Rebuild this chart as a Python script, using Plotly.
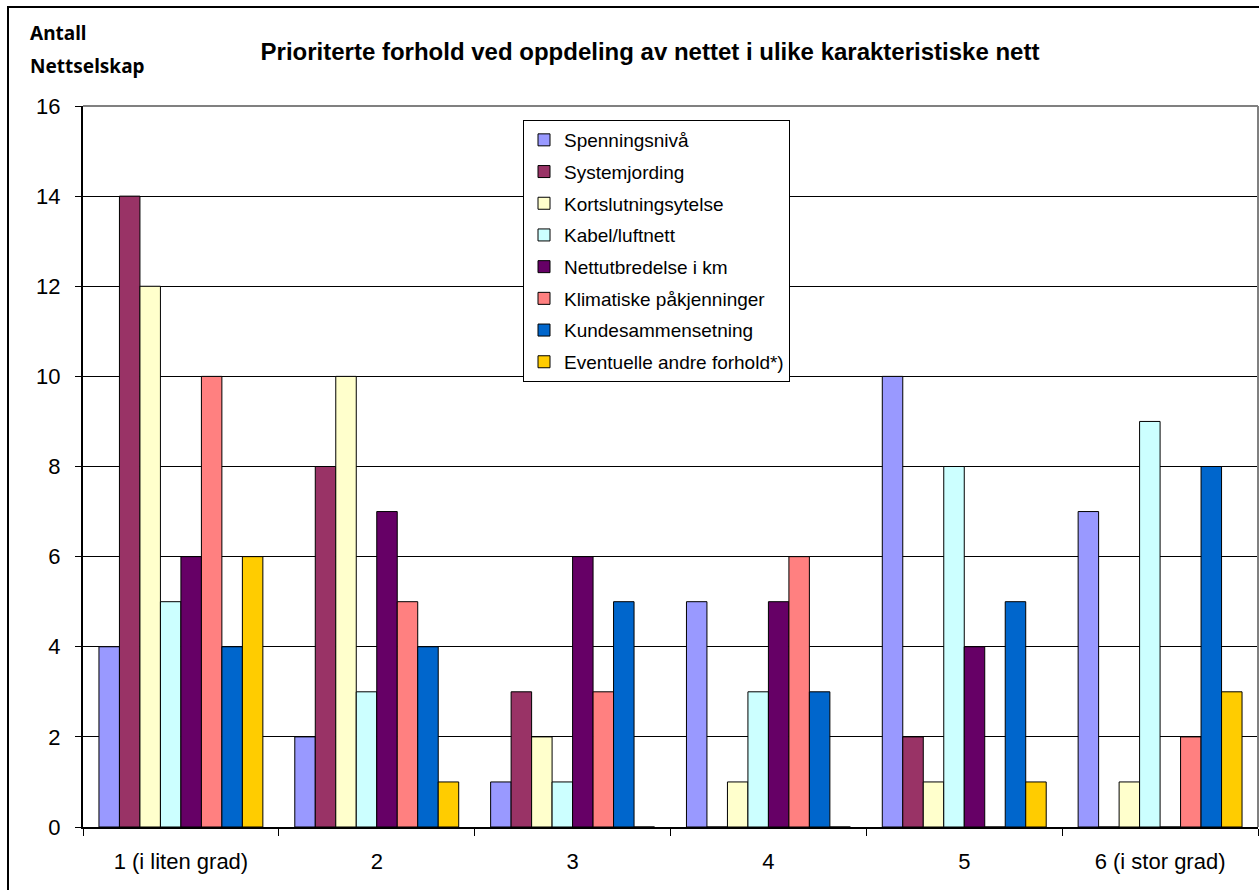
import plotly.graph_objects as go

# Survey answers: number of grid companies per priority level
categories = ["1 (i liten grad)", "2", "3", "4", "5", "6 (i stor grad)"]

series_names = [
    "Spenningsnivå",
    "Systemjording",
    "Kortslutningsytelse",
    "Kabel/luftnett",
    "Nettutbredelse i km",
    "Klimatiske påkjenninger",
    "Kundesammensetning",
    "Eventuelle andre forhold*)",
]

spenningsniva = [4, 2, 1, 5, 10, 7]
systemjording = [14, 8, 3, 0, 2, 0]
kortslutningsytelse = [12, 10, 2, 1, 1, 1]
kabel_luftnett = [5, 3, 1, 3, 8, 9]
nettutbredelse = [6, 7, 6, 5, 4, 0]
klimatiske = [10, 5, 3, 6, 0, 2]
kundesammensetning = [4, 4, 5, 3, 5, 8]
andre_forhold = [6, 1, 0, 0, 1, 3]

series_values = [
    spenningsniva, systemjording, kortslutningsytelse, kabel_luftnett,
    nettutbredelse, klimatiske, kundesammensetning, andre_forhold,
]

colors = ["#9999FF", "#993366", "#FFFFCC", "#CCFFFF",
          "#660066", "#FF8080", "#0066CC", "#FFCC00"]

y_ticks = [0, 2, 4, 6, 8, 10, 12, 14, 16]

W, H = 1259, 890
ML, MR, MT, MB = 83, 1, 106, 63
PW, PH = W - ML - MR, H - MT - MB

def px_x(p):
    return (p - ML) / PW

def px_y(p):
    return 1 - (p - MT) / PH

FONT = "Liberation Sans, Arial, sans-serif"

fig = go.Figure()
for i, (name, vals, col) in enumerate(zip(series_names, series_values, colors)):
    fig.add_trace(go.Bar(
        x=categories, y=vals, name=name,
        marker=dict(color=col, line=dict(color="#000000", width=1)),
        legendgroup=f"g{i}",
    ))

fig.update_layout(
    width=W, height=H,
    margin=dict(l=ML, r=MR, t=MT, b=MB, pad=0),
    paper_bgcolor="white", plot_bgcolor="white",
    barmode="group", bargap=0.163, bargroupgap=0,
    font=dict(family=FONT, color="#000000"),
    title=dict(
        text="<b>Prioriterte forhold ved oppdeling av nettet i ulike karakteristiske nett</b>",
        x=650 / W, xref="container", xanchor="center",
        y=1 - 52 / H, yref="container", yanchor="middle",
        font=dict(family=FONT, size=24, color="#000000"),
    ),
    legend=dict(
        x=px_x(523), y=px_y(120), xanchor="left", yanchor="top",
        bgcolor="white", bordercolor="#000000", borderwidth=1,
        font=dict(family=FONT, size=19, color="#000000"),
        tracegroupgap=4, traceorder="grouped",
    ),
    xaxis=dict(
        type="category", showgrid=False,
        showline=True, linecolor="#000000", linewidth=2,
        ticks="outside", tickson="boundaries", ticklen=7,
        tickcolor="#000000", tickwidth=1,
        tickfont=dict(family=FONT, size=22, color="#000000"),
        ticklabelstandoff=14,
    ),
    yaxis=dict(
        range=[0, 16], tickvals=y_ticks, ticktext=[str(v) for v in y_ticks],
        showgrid=True, gridcolor="#000000", gridwidth=1,
        showline=True, linecolor="#000000", linewidth=2,
        ticks="outside", ticklen=6, tickcolor="#000000", tickwidth=1,
        tickfont=dict(family=FONT, size=22, color="#000000"),
        ticklabelstandoff=10, zeroline=False,
    ),
    shapes=[
        # outer chart frame
        dict(type="rect", xref="paper", yref="paper",
             x0=px_x(8), x1=px_x(1270), y0=px_y(900), y1=px_y(7),
             line=dict(color="#000000", width=2), layer="above"),
        # plot-area border (top and right)
        dict(type="line", xref="paper", yref="paper",
             x0=0, x1=1, y0=1, y1=1,
             line=dict(color="#808080", width=2), layer="above"),
        dict(type="line", xref="paper", yref="paper",
             x0=1, x1=1, y0=0, y1=1,
             line=dict(color="#808080", width=2), layer="above"),
    ],
    annotations=[
        dict(text="<b>Antall</b>", xref="paper", yref="paper",
             x=px_x(28), y=px_y(48), xanchor="left", yanchor="bottom",
             showarrow=False, font=dict(family="Noto Sans, sans-serif", size=19)),
        dict(text="<b>Nettselskap</b>", xref="paper", yref="paper",
             x=px_x(28), y=px_y(81), xanchor="left", yanchor="bottom",
             showarrow=False, font=dict(family="Noto Sans, sans-serif", size=19)),
    ],
)

fig.write_html("out.html")
